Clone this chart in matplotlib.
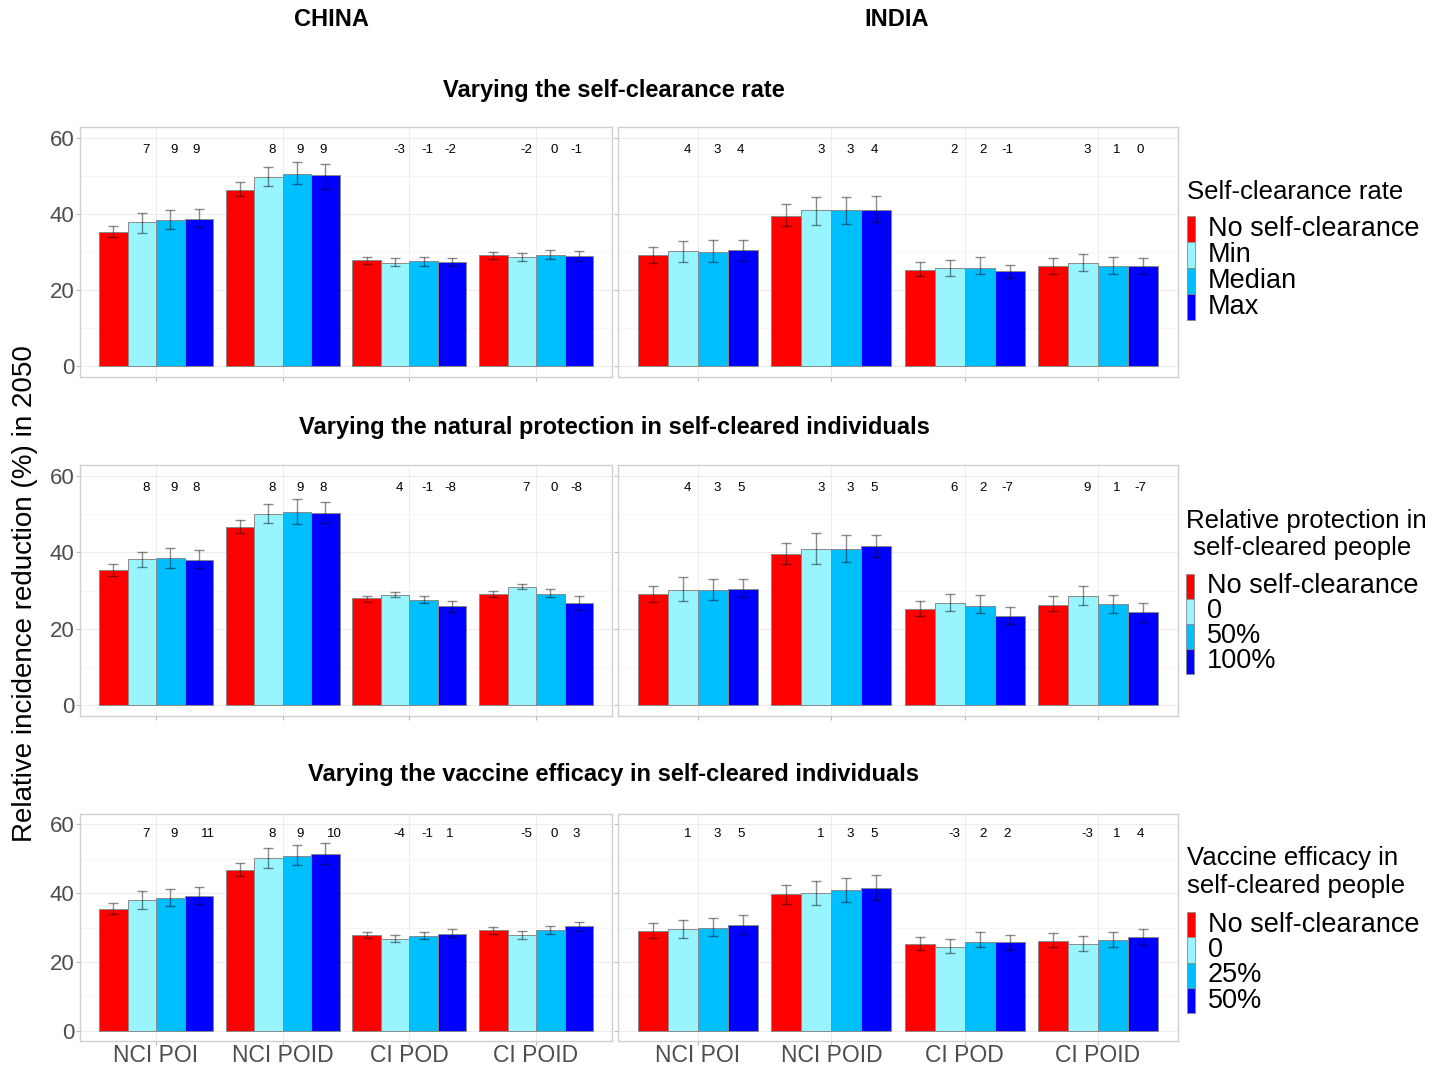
import matplotlib
matplotlib.use("Agg")
import matplotlib.pyplot as plt
import numpy as np
from matplotlib.patches import Rectangle

plt.rcParams['font.family'] = ['Liberation Sans', 'DejaVu Sans']

# ---------------- data ----------------
categories = ["NCI POI", "NCI POID", "CI POD", "CI POID"]
countries = ["CHINA", "INDIA"]
colors = ["#FF0000", "#98F5FF", "#00BFFF", "#0000FF"]
ytick_vals = [0, 20, 40, 60]

row_titles = ["Varying the self-clearance rate",
              "Varying the natural protection in self-cleared individuals",
              "Varying the vaccine efficacy in self-cleared individuals"]

legend_titles = [["Self-clearance rate"],
                 ["Relative protection in", " self-cleared people"],
                 ["Vaccine efficacy in", "self-cleared people"]]
legend_labels = [["No self-clearance", "Min", "Median", "Max"],
                 ["No self-clearance", "0", "50%", "100%"],
                 ["No self-clearance", "0", "25%", "50%"]]

# rows = categories, columns = series (No self-clearance, 2nd, 3rd, 4th)
china_rate_mean = [[35.2, 37.9, 38.5, 38.7], [46.4, 49.9, 50.5, 50.4], [27.9, 27.2, 27.5, 27.3], [29.3, 28.6, 29.3, 29.0]]
china_rate_lo = [[33.9, 34.9, 36.1, 36.7], [44.7, 47.4, 47.9, 46.7], [26.9, 26.2, 26.4, 26.4], [28.2, 27.6, 28.2, 27.6]]
china_rate_hi = [[36.9, 40.2, 41.1, 41.3], [48.4, 52.5, 53.8, 53.2], [28.6, 28.4, 28.6, 28.4], [30.0, 29.7, 30.4, 30.2]]
china_rate_lab = [["7", "9", "9"], ["8", "9", "9"], ["-3", "-1", "-2"], ["-2", "0", "-1"]]

india_rate_mean = [[29.2, 30.2, 30.1, 30.4], [39.6, 41.1, 41.0, 41.1], [25.2, 25.8, 25.8, 24.9], [26.2, 27.1, 26.4, 26.2]]
india_rate_lo = [[27.0, 27.3, 27.4, 27.6], [36.9, 37.1, 37.5, 37.8], [23.6, 23.8, 24.2, 23.1], [24.2, 25.0, 24.3, 24.2]]
india_rate_hi = [[31.4, 32.9, 33.1, 33.2], [42.6, 44.4, 44.5, 44.7], [27.3, 28.0, 28.8, 26.7], [28.4, 29.5, 28.8, 28.4]]
india_rate_lab = [["4", "3", "4"], ["3", "3", "4"], ["2", "2", "-1"], ["3", "1", "0"]]

china_prot_mean = [[35.3, 38.2, 38.5, 38.0], [46.6, 50.1, 50.7, 50.4], [27.9, 28.9, 27.4, 25.8], [29.2, 31.0, 29.2, 26.8]]
china_prot_lo = [[33.8, 36.3, 35.9, 35.8], [45.1, 47.6, 47.5, 47.6], [27.1, 28.4, 26.6, 24.3], [28.2, 30.3, 28.2, 24.8]]
china_prot_hi = [[37.0, 40.2, 41.1, 40.6], [48.5, 52.6, 53.9, 53.3], [28.6, 29.6, 28.6, 27.2], [30.0, 31.7, 30.5, 28.6]]
china_prot_lab = [["8", "9", "8"], ["8", "9", "8"], ["4", "-1", "-8"], ["7", "0", "-8"]]

india_prot_mean = [[29.2, 30.2, 30.1, 30.5], [39.6, 41.0, 41.0, 41.7], [25.2, 26.7, 25.8, 23.4], [26.3, 28.5, 26.4, 24.3]]
india_prot_lo = [[27.0, 27.2, 27.4, 28.3], [37.0, 37.0, 37.4, 38.7], [23.4, 24.5, 24.2, 21.2], [24.5, 26.2, 24.2, 21.8]]
india_prot_hi = [[31.3, 33.5, 33.0, 32.9], [42.5, 45.0, 44.6, 44.7], [27.2, 29.1, 28.7, 25.6], [28.5, 31.3, 28.7, 26.6]]
india_prot_lab = [["4", "3", "5"], ["3", "3", "5"], ["6", "2", "-7"], ["9", "1", "-7"]]

china_vacc_mean = [[35.4, 38.0, 38.5, 39.2], [46.6, 50.1, 50.8, 51.4], [27.9, 26.6, 27.5, 28.2], [29.3, 27.9, 29.2, 30.3]]
china_vacc_lo = [[33.8, 35.5, 36.1, 36.7], [44.9, 47.2, 48.1, 48.3], [27.0, 25.7, 26.6, 27.2], [28.2, 26.7, 28.1, 29.1]]
china_vacc_hi = [[37.0, 40.7, 41.1, 41.9], [48.6, 53.1, 53.9, 54.5], [28.6, 27.9, 28.6, 29.5], [30.1, 29.1, 30.4, 31.5]]
china_vacc_lab = [["7", "9", "11"], ["8", "9", "10"], ["-4", "-1", "1"], ["-5", "0", "3"]]

india_vacc_mean = [[29.1, 29.5, 30.0, 30.6], [39.6, 40.1, 40.9, 41.6], [25.1, 24.4, 25.7, 25.7], [26.1, 25.1, 26.3, 27.2]]
india_vacc_lo = [[27.0, 26.9, 27.5, 28.1], [36.9, 36.6, 37.5, 38.1], [23.5, 22.5, 24.2, 23.6], [24.3, 23.2, 24.3, 24.9]]
india_vacc_hi = [[31.3, 32.2, 32.8, 33.6], [42.4, 43.6, 44.5, 45.2], [27.2, 26.6, 28.6, 27.9], [28.4, 27.6, 28.7, 29.6]]
india_vacc_lab = [["1", "3", "5"], ["1", "3", "5"], ["-3", "2", "2"], ["-3", "1", "4"]]

panels = [
    [(china_rate_mean, china_rate_lo, china_rate_hi, china_rate_lab),
     (india_rate_mean, india_rate_lo, india_rate_hi, india_rate_lab)],
    [(china_prot_mean, china_prot_lo, china_prot_hi, china_prot_lab),
     (india_prot_mean, india_prot_lo, india_prot_hi, india_prot_lab)],
    [(china_vacc_mean, china_vacc_lo, china_vacc_hi, china_vacc_lab),
     (india_vacc_mean, india_vacc_lo, india_vacc_hi, india_vacc_lab)],
]

# ---------------- layout ----------------
W, H = 1449, 1065
fig = plt.figure(figsize=(W / 100, H / 100), dpi=100)
fig.patch.set_facecolor("white")

row_px = [(127, 377), (465, 716), (814, 1041)]
col_px = [(80, 612), (618, 1178)]
row_title_y = [89, 426, 774]

BW = 0.225
label_offsets = [-0.08, 0.14, 0.32]
LABEL_Y = 57


def add_px_axes(x0, y0, x1, y1):
    return fig.add_axes([x0 / W, 1 - y1 / H, (x1 - x0) / W, (y1 - y0) / H])


def draw_panel(ax, mean, lo, hi, labs, show_y, show_x):
    mean = np.asarray(mean)
    lo = np.asarray(lo)
    hi = np.asarray(hi)
    x = np.arange(1, len(categories) + 1)
    for j in range(mean.shape[1]):
        xs = x + (j - 1.5) * BW
        ax.bar(xs, mean[:, j], width=BW, color=colors[j], edgecolor="#8A8A8A",
               linewidth=0.7, zorder=2)
        ax.errorbar(xs, mean[:, j], yerr=[mean[:, j] - lo[:, j], hi[:, j] - mean[:, j]],
                    fmt="none", ecolor=(0, 0, 0, 0.45), elinewidth=1.0, capsize=3.5,
                    capthick=1.0, zorder=3)
    for i in range(len(categories)):
        for k, s in enumerate(labs[i]):
            off = label_offsets[k]
            if len(s.lstrip("-")) > 1:
                off += 0.09
            ax.text(x[i] + off, LABEL_Y, s, ha="center", va="center", fontsize=9.5,
                    color="black", zorder=4)
    ax.set_xlim(0.4, 4.6)
    ax.set_ylim(-2.95, 62.95)
    ax.set_yticks(ytick_vals)
    ax.set_yticks([10, 30, 50], minor=True)
    ax.set_xticks(x)
    ax.grid(True, which="major", color="#EDEDED", linewidth=0.8, zorder=0)
    ax.grid(True, which="minor", axis="y", color="#F4F4F4", linewidth=0.6, zorder=0)
    ax.set_axisbelow(True)
    for sp in ax.spines.values():
        sp.set_color("#CFCFCF")
        sp.set_linewidth(1.0)
    ax.tick_params(axis="both", which="major", length=3, color="#BBBBBB",
                   labelcolor="#4D4D4D")
    ax.tick_params(axis="y", which="minor", length=0)
    if show_y:
        ax.set_yticklabels([str(v) for v in ytick_vals], fontsize=16)
        ax.tick_params(axis="y", pad=1)
    else:
        ax.set_yticklabels([])
    if show_x:
        ax.set_xticklabels(categories, fontsize=16.5)
        ax.tick_params(axis="x", pad=-1)
    else:
        ax.set_xticklabels([])


for r, (y0, y1) in enumerate(row_px):
    for c, (x0, x1) in enumerate(col_px):
        ax = add_px_axes(x0, y0, x1, y1)
        m, lo, hi, lab = panels[r][c]
        draw_panel(ax, m, lo, hi, lab, show_y=(c == 0), show_x=(r == 2))

# titles
fig.text(331 / W, 1 - 20 / H, countries[0], ha="center", va="center",
         fontsize=17, fontweight="bold")
fig.text(897 / W, 1 - 20 / H, countries[1], ha="center", va="center",
         fontsize=17, fontweight="bold")
for r, ty in enumerate(row_title_y):
    fig.text(614 / W, 1 - (ty + 1) / H, row_titles[r], ha="center", va="center",
             fontsize=17, fontweight="bold")

fig.text(25 / W, 1 - 594 / H, "Relative incidence reduction (%) in 2050",
         rotation=90, ha="center", va="center", fontsize=20)

# legends
legend_specs = [
    dict(title_x=1187, title_y=[192], key_x=1187, key_top=216, key_h=26, lab_x=1208),
    dict(title_x=1186, title_y=[521, 548], key_x=1186, key_top=573.5, key_h=25, lab_x=1207),
    dict(title_x=1187, title_y=[858, 886], key_x=1187, key_top=912, key_h=25.3, lab_x=1208),
]
for r, spec in enumerate(legend_specs):
    for line, ty in zip(legend_titles[r], spec["title_y"]):
        fig.text(spec["title_x"] / W, 1 - ty / H, line, ha="left", va="center",
                 fontsize=18.5)
    for j, lab in enumerate(legend_labels[r]):
        top = spec["key_top"] + j * spec["key_h"]
        rect = Rectangle((spec["key_x"] / W, 1 - (top + spec["key_h"]) / H),
                         8 / W, spec["key_h"] / H, transform=fig.transFigure,
                         facecolor=colors[j], edgecolor="#8A8A8A", linewidth=0.6)
        fig.patches.append(rect)
        fig.text(spec["lab_x"] / W, 1 - (top + spec["key_h"] / 2) / H, lab,
                 ha="left", va="center", fontsize=19.5)

fig.savefig("out.png", dpi=100, facecolor="white")
